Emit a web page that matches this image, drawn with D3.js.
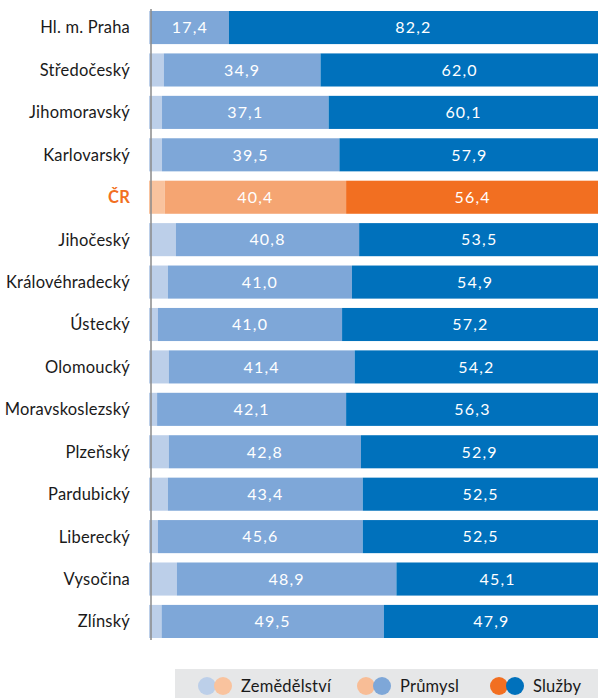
<!DOCTYPE html>
<html>
<head>
<meta charset="utf-8">
<script src="https://cdn.jsdelivr.net/npm/d3@7"></script>
<style>
  body { margin: 0; background: #fff; }
  svg { display: block; font-family: Lato, "DejaVu Sans", sans-serif; }
</style>
</head>
<body>
<script>
// regions, top to bottom
var regions = ["Hl. m. Praha", "Středočeský", "Jihomoravský", "Karlovarský", "ČR",
  "Jihočeský", "Královéhradecký", "Ústecký", "Olomoucký", "Moravskoslezský",
  "Plzeňský", "Pardubický", "Liberecký", "Vysočina", "Zlínský"];

// shares of employment (%) by sector
var zemedelstvi = [0.4, 3.3, 2.9, 2.9, 3.5, 6.0, 4.2, 2.0, 4.4, 1.8, 4.4, 4.2, 2.0, 6.2, 2.8];
var prumysl     = [17.4, 34.9, 37.1, 39.5, 40.4, 40.8, 41.0, 41.0, 41.4, 42.1, 42.8, 43.4, 45.6, 48.9, 49.5];
var sluzby      = [82.2, 62.0, 60.1, 57.9, 56.4, 53.5, 54.9, 57.2, 54.2, 56.3, 52.9, 52.5, 52.5, 45.1, 47.9];

var sectors = ["Zemědělství", "Průmysl", "Služby"];

var blue = ["#bccfe9", "#7ea7d8", "#0071bc"];
var orange = ["#f9c39e", "#f5a572", "#f26f21"];

var width = 598, height = 698;

var svg = d3.select("body").append("svg")
    .attr("width", width)
    .attr("height", height);

var data = regions.map(function(r, i) {
  return { region: r, values: [zemedelstvi[i], prumysl[i], sluzby[i]] };
});

var x = d3.scaleLinear().domain([0, 100]).range([149, 598]);
var y = d3.scaleBand()
    .domain(regions)
    .range([11, 638])
    .paddingInner(0.22)
    .paddingOuter(0);

var rows = svg.selectAll(".row")
    .data(data)
  .enter().append("g")
    .attr("class", "row")
    .attr("transform", function(d) { return "translate(0," + y(d.region) + ")"; });

rows.each(function(d) {
  var g = d3.select(this);
  var cols = d.region === "ČR" ? orange : blue;
  var start = 0;
  d.values.forEach(function(v, k) {
    g.append("rect")
      .attr("x", x(start))
      .attr("y", 0)
      .attr("width", x(start + v) - x(start))
      .attr("height", y.bandwidth())
      .attr("fill", cols[k]);
    if (k > 0) {
      g.append("text")
        .attr("x", (x(start) + x(start + v)) / 2)
        .attr("y", y.bandwidth() / 2)
        .attr("dy", "0.36em")
        .attr("text-anchor", "middle")
        .attr("fill", "#fff")
        .style("font-size", "16px")
        .style("letter-spacing", "1.2px")
        .text(d3.format(".1f")(v).replace(".", ","));
    }
    start += v;
  });
});

// category labels
svg.selectAll(".lab")
    .data(data)
  .enter().append("text")
    .attr("x", 130)
    .attr("y", function(d) { return y(d.region) + y.bandwidth() / 2; })
    .attr("dy", "0.36em")
    .attr("text-anchor", "end")
    .attr("fill", function(d) { return d.region === "ČR" ? "#f26f21" : "#1a1a1a"; })
    .style("font-weight", function(d) { return d.region === "ČR" ? "bold" : "normal"; })
    .style("font-size", "16.5px")
    .style("letter-spacing", "0.2px")
    .text(function(d) { return d.region; });

// vertical axis line
svg.append("line")
    .attr("x1", 151).attr("x2", 151)
    .attr("y1", y.range()[0] - 2).attr("y2", y.range()[1] + 2)
    .attr("stroke", "#8a8a8a")
    .attr("stroke-width", 1.5);

// legend
svg.append("rect")
    .attr("x", 175).attr("y", 669)
    .attr("width", width - 175).attr("height", height - 669)
    .attr("fill", "#e6e7e8");

var legendX = [207, 366, 499];
var legendPairs = [[blue[0], orange[0]], ["#f8bd96", blue[1]], [orange[2], blue[2]]];

sectors.forEach(function(s, i) {
  var g = svg.append("g").attr("transform", "translate(" + legendX[i] + ",686)");
  g.append("circle").attr("cx", 0).attr("cy", 0).attr("r", 9).attr("fill", legendPairs[i][0]);
  g.append("circle").attr("cx", 16).attr("cy", 0).attr("r", 9).attr("fill", legendPairs[i][1]);
  g.append("text")
    .attr("x", 34)
    .attr("y", 0)
    .attr("dy", "0.36em")
    .attr("fill", "#1a1a1a")
    .style("font-size", "16.5px")
    .style("letter-spacing", "0.2px")
    .text(s);
});
</script>
</body>
</html>
